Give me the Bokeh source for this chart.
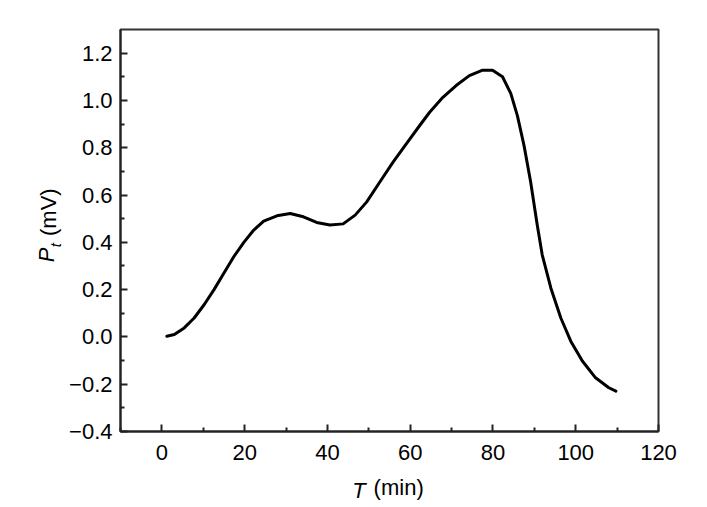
from bokeh.plotting import figure
from bokeh.models import Range1d, FixedTicker, CustomJSTickFormatter, LinearAxis
from bokeh.embed import file_html
from bokeh.resources import INLINE

# ---- data ----
time_min = [1.2, 3.0, 5.4, 7.8, 10.2, 12.6, 15.0, 17.4, 19.8, 22.2, 24.6, 27.8,
            31.0, 34.2, 37.4, 40.6, 43.8, 46.7, 49.5, 52.7, 55.9, 59.1, 62.3,
            64.7, 67.9, 71.1, 74.3, 77.5, 79.9, 82.3, 84.3, 85.9, 87.5, 89.1,
            90.7, 91.9, 94.0, 96.4, 98.8, 101.6, 104.8, 108.0, 109.7]
pt_mv = [0.003, 0.01, 0.038, 0.08, 0.136, 0.2, 0.27, 0.34, 0.40, 0.452, 0.49,
         0.512, 0.522, 0.508, 0.484, 0.473, 0.478, 0.515, 0.571, 0.656, 0.74,
         0.817, 0.894, 0.95, 1.013, 1.063, 1.105, 1.128, 1.128, 1.10, 1.03,
         0.936, 0.81, 0.656, 0.473, 0.347, 0.206, 0.08, -0.018, -0.102,
         -0.173, -0.215, -0.229]

x_ticks = [0, 20, 40, 60, 80, 100, 120]
x_minor = [-10, 10, 30, 50, 70, 90, 110]
y_ticks = [-0.4, -0.2, 0.0, 0.2, 0.4, 0.6, 0.8, 1.0, 1.2]
y_minor = [-0.3, -0.1, 0.1, 0.3, 0.5, 0.7, 0.9, 1.1]

x_title_italic = "T"
x_title_rest = "(min)"
y_title_italic = "P"
y_title_sub = "t"
y_title_rest = "(mV)"

FONT = "Liberation Sans"
FS = "22px"
NB = "\u00a0"

p = figure(width=698, height=505, output_backend="svg", toolbar_location=None,
           x_range=Range1d(-10, 120), y_range=Range1d(-0.4, 1.3),
           min_border_left=120, min_border_right=40, min_border_top=29,
           min_border_bottom=74)
p.background_fill_color = "white"
p.border_fill_color = "white"
p.grid.visible = False
p.outline_line_color = "#333333"
p.outline_line_width = 2

p.line(time_min, pt_mv, line_color="black", line_width=3,
       line_join="round", line_cap="round")

for ax in (p.xaxis[0], p.yaxis[0]):
    ax.axis_line_color = "#222222"
    ax.axis_line_width = 2
    ax.major_tick_line_color = "#222222"
    ax.major_tick_line_width = 2
    ax.minor_tick_line_color = "#222222"
    ax.minor_tick_line_width = 2
    ax.major_tick_in = 7
    ax.major_tick_out = 0
    ax.minor_tick_in = 4
    ax.minor_tick_out = 0
    ax.major_label_text_font = FONT
    ax.major_label_text_font_size = FS
    ax.major_label_text_color = "black"
    ax.axis_label_text_font = FONT
    ax.axis_label_text_font_size = FS
    ax.axis_label_text_font_style = "normal"
    ax.axis_label_text_color = "black"

p.xaxis[0].ticker = FixedTicker(ticks=x_ticks, minor_ticks=x_minor)
p.yaxis[0].ticker = FixedTicker(ticks=y_ticks, minor_ticks=y_minor)
p.xaxis[0].formatter = CustomJSTickFormatter(code="return tick.toFixed(0).replace('-', '\u2212');")
p.yaxis[0].formatter = CustomJSTickFormatter(code="return tick.toFixed(1).replace('-', '\u2212');")
p.xaxis[0].major_label_standoff = 13
p.yaxis[0].major_label_standoff = 8

# upright parts of the titles on the main axes (shifted with no-break spaces)
p.xaxis[0].axis_label = NB * 3 + x_title_rest
p.xaxis[0].axis_label_standoff = 12
p.yaxis[0].axis_label = NB * 6 + y_title_rest
p.yaxis[0].axis_label_standoff = 5


def title_axis(text, size, standoff):
    return LinearAxis(ticker=FixedTicker(ticks=[]), axis_label=text,
                      axis_label_text_font=FONT, axis_label_text_font_size=size,
                      axis_label_text_font_style="italic",
                      axis_label_text_color="black",
                      axis_label_standoff=standoff,
                      axis_line_color=None, major_tick_line_color=None,
                      minor_tick_line_color=None, major_label_standoff=0,
                      major_tick_in=0, major_tick_out=0,
                      minor_tick_in=0, minor_tick_out=0)


# italic parts, stacked back onto the same line with negative standoffs
p.add_layout(title_axis(x_title_italic + NB * 10, FS, -25), "below")
p.add_layout(title_axis(y_title_italic + NB * 8, FS, -25), "left")
p.add_layout(title_axis(y_title_sub + NB * 7, "15px", -33), "left")

open("out.html", "w").write(file_html(p, INLINE))
